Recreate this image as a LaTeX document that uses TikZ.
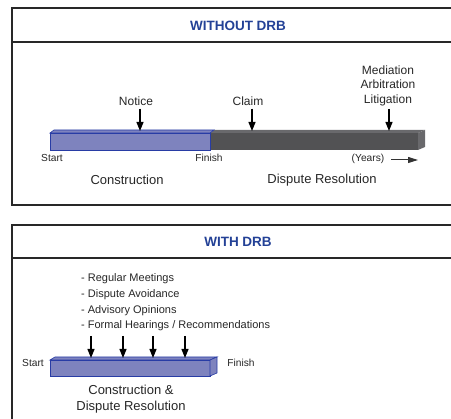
\documentclass[tikz,border=0pt]{standalone}
\usepackage{fontspec}
\setmainfont{Liberation Sans}
\usepackage{xcolor}
\usetikzlibrary{positioning,arrows.meta}
\definecolor{drbblue}{RGB}{35,65,150}
\definecolor{barblue}{RGB}{126,131,190}
\definecolor{barline}{RGB}{40,60,165}
\definecolor{bardark}{RGB}{82,82,84}
\definecolor{bartop}{RGB}{105,105,108}
\definecolor{framegray}{RGB}{40,40,40}
\tikzset{
  frame/.style={line width=1.8pt, draw=framegray},
  title/.style={font=\bfseries\fontsize{13.5}{15}\selectfont, text=drbblue},
  small/.style={font=\fontsize{10.2}{12}\selectfont, text=black!85, inner sep=0pt},
  evt/.style={font=\fontsize{12}{14.5}\selectfont, text=black!85, inner sep=0pt, align=center},
  phase/.style={font=\fontsize{13}{15.5}\selectfont, text=black!85, inner sep=0pt, align=center},
  dnarrow/.style={-{Triangle[length=9pt,width=7pt]}, line width=1.2pt},
}

\begin{document}
\begin{tikzpicture}[x=1pt, y=-1pt]
	\useasboundingbox (0,0) rectangle (451,419);
	% frames
	\draw[frame] (451,8) -- (12,8) -- (12,205) -- (451,205);
	\draw[frame] (12,42) -- (451,42);
	\draw[frame] (451,225) -- (12,225) -- (12,419);
	\draw[frame] (12,258) -- (451,258);
	\node[title] (t1) at (238,26) {WITHOUT DRB};
	\node[title] (t2) at (238,242) {WITH DRB};

	% without DRB: bars
	\fill[bartop] (210,133) -- (214,130) -- (425,130) -- (418,133) -- cycle;
	\fill[bardark] (210,133) rectangle (418,150);
	\fill[bartop] (418,133) -- (425,130) -- (425,147) -- (418,150) -- cycle;
	\filldraw[fill=barblue, draw=barline, line width=0.6pt] (50,133) -- (54,130) -- (214,130) -- (210,133) -- cycle;
	\filldraw[fill=barblue, draw=barline, line width=0.6pt] (50,133) rectangle (210,150);
	\coordinate (c1) at (140,131);
	\coordinate (c2) at (252,131);
	\coordinate (c3) at (389,131);

	\node[evt] (notice) at (136,101) {Notice};
	\node[evt] (claim) at (248,101) {Claim};
	\node[evt] (adr) at (388,85.5) {Mediation\\Arbitration\\Litigation};
	\draw[dnarrow] (notice.south -| c1) ++(0,3) -- (c1);
	\draw[dnarrow] (claim.south -| c2) ++(0,3) -- (c2);
	\draw[dnarrow] (adr.south -| c3) ++(0,3) -- (c3);

	\node[small] (start1) at (52,158) {Start};
	\node[small] (finish1) at (209,158) {Finish};
	\node[small] (years) at (368,159) {(Years)};
	\coordinate (yend) at (418,160);
	\draw[-{Triangle[length=10pt,width=6pt]}, line width=1pt, black!80] (years.east) ++(7,1) -- (yend);
	\node[phase] (cons) at (127,180) {Construction};
	\node[phase] (disp) at (322,180) {Dispute Resolution};

	% with DRB
	\node[evt, align=left, anchor=north west, font=\fontsize{11}{15.7}\selectfont] (acts) at (81,273.5) {- Regular Meetings\\- Dispute Avoidance\\- Advisory Opinions\\- Formal Hearings / Recommendations};
	\filldraw[fill=barblue, draw=barline, line width=0.6pt] (50,360) -- (55,357) -- (217,357) -- (210,360) -- cycle;
	\filldraw[fill=barblue, draw=barline, line width=0.6pt] (50,360) rectangle (210,376);
	\filldraw[fill=barblue, draw=barline, line width=0.6pt] (210,360) -- (217,357) -- (217,373) -- (210,376) -- cycle;
	\foreach \x [count=\i] in {91,123,153,185} {
		\coordinate (top\i) at (\x,336);
		\coordinate (bar\i) at (\x,358);
		\draw[dnarrow] (top\i) -- (bar\i);
	}
	\node[small] (start2) at (33,363) {Start};
	\node[small] (finish2) at (241,363) {Finish};
	\node[phase] (both) at (131,399) {Construction \&\\Dispute Resolution};
\end{tikzpicture}
\end{document}
